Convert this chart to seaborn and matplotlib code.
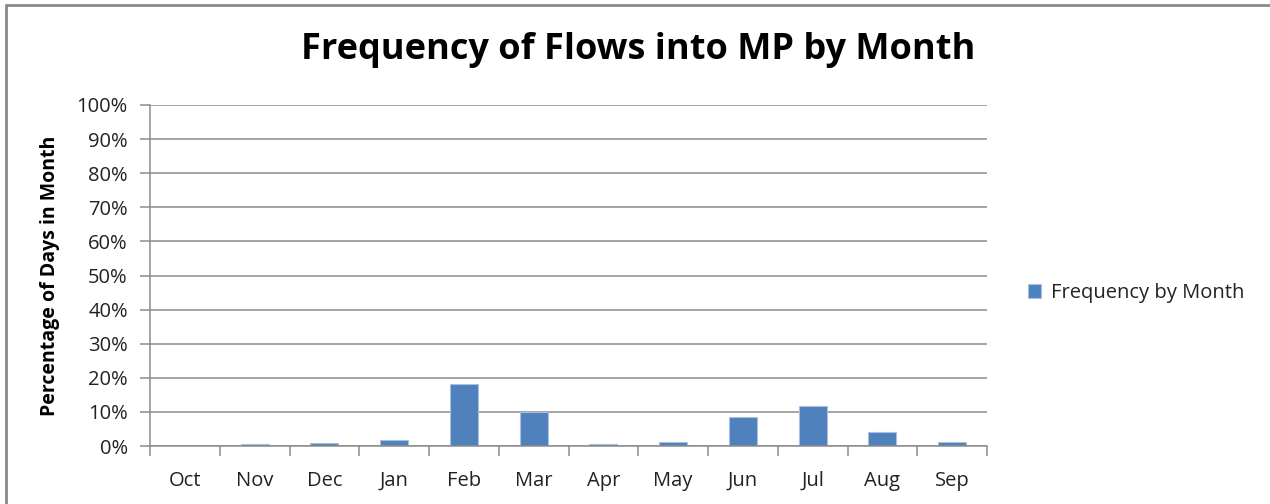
import matplotlib
matplotlib.use("Agg")
import matplotlib.pyplot as plt
from matplotlib.lines import Line2D
from matplotlib.ticker import PercentFormatter, MultipleLocator
import seaborn as sns
import pandas as pd

months = ["Oct", "Nov", "Dec", "Jan", "Feb", "Mar",
          "Apr", "May", "Jun", "Jul", "Aug", "Sep"]
frequency = [0.0, 0.5, 0.9, 1.8, 18.2, 10.1,
             0.5, 1.2, 8.6, 11.7, 4.2, 1.2]
series_name = "Frequency by Month"

df = pd.DataFrame({"Month": months, "Frequency": frequency, "Series": series_name})

sns.set_theme(style="white")
plt.rcParams["font.family"] = ["Open Sans", "DejaVu Sans"]

bar_color = "#4f81bd"
grid_color = "#8c8c8c"
text_color = "#222222"

fig = plt.figure(figsize=(12.7, 5.04), dpi=100)
ax = fig.add_axes([150 / 1270, 1 - 446 / 504, (987 - 150) / 1270, (446 - 105) / 504])

sns.barplot(data=df, x="Month", y="Frequency", hue="Series", palette=[bar_color],
            saturation=1, width=0.4, edgecolor="#a9c0e0", linewidth=0.8,
            ax=ax, legend=True)

ax.set_ylim(0, 100)
ax.set_xlim(-0.5, len(months) - 0.5)
ax.yaxis.set_major_locator(MultipleLocator(10))
ax.yaxis.set_major_formatter(PercentFormatter(decimals=0))
ax.grid(axis="y", color=grid_color, linewidth=1.1)
ax.set_axisbelow(True)

for side in ("top", "right"):
    ax.spines[side].set_visible(False)
for side in ("left", "bottom"):
    ax.spines[side].set_color(grid_color)
    ax.spines[side].set_linewidth(1.1)

# Category-boundary ticks below the x axis, labels centered in each slot
ax.set_xticks([i - 0.5 for i in range(len(months) + 1)], minor=False)
ax.set_xticklabels([])
ax.set_xticks(range(len(months)), minor=True)
ax.set_xticklabels(months, minor=True)
ax.tick_params(axis="x", which="major", direction="out", length=7, width=1.1,
               color=grid_color, bottom=True)
ax.tick_params(axis="x", which="minor", length=0, pad=18, labelsize=14.5,
               labelcolor=text_color)
ax.tick_params(axis="y", direction="out", length=7, width=1.1, color=grid_color,
               left=True, labelsize=14.5, labelcolor=text_color, pad=9)

ax.set_xlabel("")
ax.set_ylabel("Percentage of Days in Month", fontsize=14, fontweight="bold",
              color="black")
ax.yaxis.set_label_coords(-0.107, 0.5)

fig.suptitle("Frequency of Flows into MP by Month", x=638 / 1270, y=1 - 50 / 504,
             va="center", fontsize=26, fontweight="bold", color="black")

handles, labels = ax.get_legend_handles_labels()
ax.get_legend().remove()
fig.legend(handles, labels, loc="center left", bbox_to_anchor=(1010 / 1270, 1 - 293 / 504),
           frameon=False, fontsize=14.5, handlelength=0.65, handleheight=0.65,
           handletextpad=0.5, labelcolor=text_color)

# Chart frame (top and left edges)
fig.add_artist(Line2D([6 / 1270, 6 / 1270], [0, 1 - 5 / 504], transform=fig.transFigure,
                      color="#8a8a8a", linewidth=2))
fig.add_artist(Line2D([6 / 1270, 1], [1 - 5 / 504, 1 - 5 / 504], transform=fig.transFigure,
                      color="#8a8a8a", linewidth=2))

fig.savefig("out.png", dpi=100)
